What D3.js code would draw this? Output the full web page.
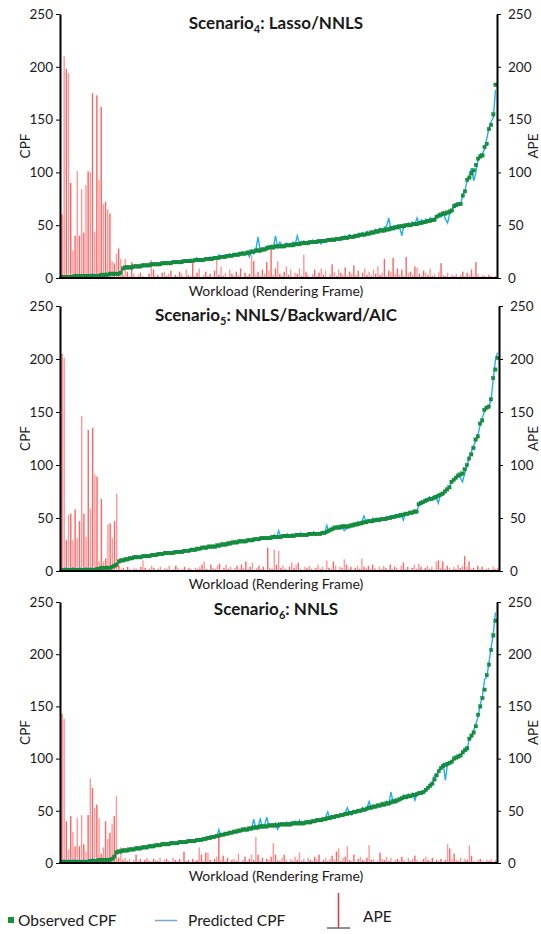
<!DOCTYPE html>
<html><head><meta charset="utf-8">
<script src="https://cdn.jsdelivr.net/npm/d3@7"></script>
<style>body{margin:0;background:#fff}text{font-family:Lato,"Open Sans",sans-serif;fill:#1a1a1a}</style>
</head><body>
<svg id="c" width="541" height="934"></svg>
<script>
const yTicks = [0,50,100,150,200,250];

const obs4 = [1,1,1,1,1,1,2,2,2,2,2,2,2,2,2,2,2,2,
3,3,3,3,4,4,4,4,4,5,
9,10,10,10,10,11,
11,11,11,12,12,12,12,13,
13,13,13,13,14,14,14,
14,14,15,15,15,15,15,16,
16,16,16,16,17,17,17,17,
17,18,18,18,18,19,19,
19,20,20,20,21,21,21,22,
22,22,23,23,23,24,24,25,
25,26,26,26,27,27,28,29,
29,29,30,30,30,30,30,31,31,31,31,32,32,32,33,
33,33,33,34,34,34,34,35,35,35,35,36,36,36,36,
37,37,37,38,38,38,39,39,39,40,40,41,41,41,42,
42,43,43,44,44,45,45,45,46,46,47,47,48,48,49,
49,49,50,50,50,51,51,51,52,52,53,53,54,54,55,
55,58,59,60,61,61,62,63,64,
68,69,70,70,
78,82,93,95,99,102,107,113,115,116,124,127,141,145,155,183];
const pred4 = [2,2,1,2,2,3,3,2,3,2,3,3,2,3,4,3,2,3,
4,3,5,4,4,5,4,5,5,5,
9,11,10,11,10,12,
12,11,12,13,11,13,12,14,
13,14,12,14,15,13,15,
15,14,16,15,16,14,17,15,
17,16,18,16,17,19,16,18,
17,19,18,20,18,20,19,
22,19,21,22,20,23,21,23,
21,24,22,25,23,25,20,26,
23,27,39,25,28,27,30,28,
31,28,40,29,34,31,30,33,30,32,34,31,40,33,32,
35,32,35,33,36,34,36,34,32,36,35,37,35,38,36,
38,36,39,37,40,37,41,38,41,39,42,40,43,41,44,
41,44,42,46,43,47,44,48,49,57,46,49,47,50,48,
40,51,49,52,50,53,51,57,51,55,52,56,54,57,54,
57,58,61,58,62,56,52,61,63,
70,70,71,70,
79,83,92,97,104,92,100,112,117,118,122,132,142,148,152,178];
const ape4 = [60,210,198,194,90,26,40,101,40,84,43,88,101,100,175,44,173,93,162,70,72,65,61,16,14,23,28,18,
3,18,6,2,15,4,1,3,5,2,1,0,4,17,8,2,3,1,5,6,2,4,7,1,3,2,6,4,1,8,3,2,
14,2,5,9,1,3,6,2,4,1,7,17,3,11,2,5,1,8,4,2,6,3,9,1,5,2,4,22,16,3,6,2,8,4,15,7,27,3,9,16,
4,2,6,11,3,8,1,5,4,9,2,22,6,3,1,4,8,2,5,9,3,7,1,4,13,6,2,8,5,3,10,2,6,4,12,3,7,1,5,9,
3,6,2,8,4,11,3,5,18,2,7,6,19,4,9,3,8,2,20,5,6,3,11,10,4,2,7,5,3,9,2,4,1,6,14,3,2,5,1,3,
2,4,1,3,6,2,5,3,8,2,15,4,1,3,2,1,3,2,1,2];

const obs5 = [1,1,1,1,1,1,1,1,1,1,1,1,1,1,1,1,
2,2,3,3,3,3,3,4,5,
6,9,10,10,11,11,12,12,13,
13,13,13,14,14,14,14,15,15,15,16,16,16,17,17,
17,17,17,18,18,18,18,19,19,19,20,20,20,21,21,
22,22,22,23,23,23,23,24,24,25,25,25,26,26,27,
27,27,28,28,28,28,29,29,29,30,30,30,31,31,31,31,
31,32,32,32,32,32,33,33,33,33,33,33,34,34,34,34,
34,34,35,35,35,35,35,35,36,36,37,38,39,40,41,
41,41,42,42,42,42,43,43,44,44,45,45,46,46,47,
47,47,48,48,48,49,49,49,50,50,51,51,52,52,53,
53,54,54,55,55,56,56,
63,64,65,66,67,68,68,69,70,71,72,73,75,
77,79,84,86,88,90,91,92,96,100,106,110,116,124,127,139,142,152,154,155,162,182,190,201];
const pred5 = [2,2,3,2,2,3,2,2,3,2,2,3,2,3,2,2,
3,3,4,3,4,4,3,4,5,
6,9,11,10,12,10,13,11,14,
13,14,12,15,13,15,13,16,14,16,15,17,15,18,16,
18,16,19,17,19,17,20,18,20,19,21,19,22,20,22,
21,23,21,24,22,24,22,25,23,26,24,26,25,27,26,
28,26,29,27,29,27,30,28,30,29,31,29,32,30,32,30,
32,30,34,31,38,32,34,32,35,32,35,33,35,33,36,33,
35,33,36,34,37,34,36,34,37,35,43,37,40,41,42,
40,43,41,38,40,43,42,45,43,46,44,47,52,46,48,
46,50,47,50,47,50,48,51,49,52,50,53,51,54,52,
48,55,53,56,54,57,55,
62,66,64,68,66,70,67,71,69,64,73,72,76,
78,79,85,86,89,91,88,84,92,98,107,112,118,122,128,137,144,150,154,156,160,180,198,206];
const ape5 = [205,201,29,53,54,29,58,31,47,146,54,32,133,59,135,91,89,9,68,9,12,44,45,31,47,73,
5,2,3,1,4,2,1,3,2,1,4,10,3,1,2,5,3,1,2,4,1,3,2,5,1,2,5,3,1,2,4,1,3,2,
1,3,2,4,6,9,2,1,6,3,2,5,7,1,3,6,2,4,1,3,5,2,6,3,9,2,4,8,1,3,5,2,4,1,22,3,2,20,6,19,
3,5,2,1,4,8,3,6,8,2,1,4,3,5,2,1,3,6,2,4,1,10,3,2,9,5,1,4,3,11,6,2,4,1,3,5,2,12,4,3,
5,2,6,3,1,4,2,5,3,1,6,2,4,3,1,5,8,2,4,1,3,6,2,7,4,1,3,5,2,4,1,9,10,3,9,2,5,3,1,4,
2,6,3,5,14,4,9,2,3,1,5,2,4,1,2,3,1,4,2,3];

const obs6 = [1,1,1,1,1,1,1,1,1,1,1,1,1,2,2,2,2,
3,3,3,3,3,3,4,6,
10,11,11,12,12,12,13,13,13,
14,14,14,15,15,15,16,16,16,17,17,17,18,18,18,
18,19,19,19,19,20,20,20,20,21,21,21,21,22,22,
22,23,23,24,24,25,25,26,26,27,27,28,28,29,29,
30,30,31,31,32,32,32,33,33,34,34,34,35,35,35,35,
36,36,36,36,36,37,37,37,37,37,37,38,38,38,38,38,
38,39,39,39,40,40,41,41,41,42,42,43,43,44,44,
45,45,46,46,47,47,48,48,49,49,50,50,51,51,52,
53,53,54,54,55,55,56,56,57,57,58,59,59,60,61,
62,63,63,64,64,65,65,66,67,67,68,70,72,74,76,
80,84,88,91,93,94,95,96,97,100,101,102,103,106,108,110,119,122,125,131,142,150,158,166,180,190,204,218,232];
const pred6 = [2,3,2,3,2,3,3,2,3,2,3,2,3,3,4,3,3,
4,4,4,3,4,4,5,6,
10,12,11,13,11,13,12,14,13,
15,13,15,14,16,14,17,15,17,16,18,16,19,17,19,
17,20,18,20,18,21,19,21,19,22,20,22,20,23,21,
23,22,25,23,26,24,26,25,32,26,28,27,29,28,30,
29,31,30,32,31,33,31,34,32,42,33,35,42,34,36,44,
35,37,35,38,32,36,38,36,39,36,39,37,40,37,41,37,
39,38,40,38,41,39,42,40,42,41,44,49,42,45,43,
46,44,47,45,48,53,47,46,50,48,51,49,53,50,53,
59,52,55,53,56,54,58,55,59,56,68,58,61,59,62,
61,65,62,66,63,67,60,67,66,69,68,71,71,76,75,
84,85,88,92,95,79,96,95,98,101,100,103,104,107,110,108,120,121,127,133,140,152,160,176,178,192,206,220,240];
const ape6 = [143,138,40,13,45,30,16,43,16,46,18,11,46,81,72,53,56,43,9,15,40,23,29,37,45,64,
5,15,3,5,2,4,1,3,8,2,4,1,3,5,2,1,4,3,2,5,1,3,4,2,1,5,3,2,4,1,11,2,3,1,
4,2,3,15,8,2,10,10,3,1,4,6,25,3,7,2,5,1,3,4,2,9,1,3,6,2,4,8,3,25,8,2,5,1,4,3,6,19,8,3,
2,5,8,3,1,4,2,6,3,10,2,4,1,5,3,2,6,4,8,1,3,5,2,4,7,3,11,14,2,5,6,16,3,2,8,1,4,6,3,2,
5,17,3,4,1,2,10,4,3,6,2,5,1,3,4,2,6,3,1,5,2,4,7,3,1,2,4,6,3,2,5,1,3,2,4,1,3,18,14,4,
9,3,2,5,1,4,3,17,7,2,1,3,4,2,1,3,2,4,1,3];

const titleSubs = ["4","5","6"];
const titleRest = [": Lasso/NNLS", ": NNLS/Backward/AIC", ": NNLS"];
const xLabel = "Workload (Rendering Frame)";

const panels = [
  {obs:obs4, pred:pred4, ape:ape4, top:14, bottom:278, left:60, right:497, ty:29, xl:296},
  {obs:obs5, pred:pred5, ape:ape5, top:306, bottom:571, left:60, right:499, ty:321, xl:589},
  {obs:obs6, pred:pred6, ape:ape6, top:602, bottom:863, left:60, right:497, ty:615, xl:881}
];

const svg = d3.select("#c");
const GREEN = "#14913f", BLUE = "#22b0ee", RED = "#ff5252";

panels.forEach((p, k) => {
  const n = Math.min(p.obs.length, p.pred.length, p.ape.length);
  const x = d3.scaleLinear().domain([0, n - 1]).range([p.left + 2, p.right - 1.5]);
  const yL = d3.scaleLinear().domain([0, 250]).range([p.bottom, p.top]);
  const yR = d3.scaleLinear().domain([0, 250]).range([p.bottom, p.top]);
  const g = svg.append("g");

  g.append("g").selectAll("rect").data(p.ape.slice(0, n)).join("rect")
    .attr("x", (d, i) => x(i) - 0.7).attr("width", 1.4)
    .attr("y", d => yR(d)).attr("height", d => p.bottom - yR(d))
    .attr("fill", RED).attr("fill-opacity", (d, i) => i % 2 ? 0.6 : 0.9);

  g.append("path").datum(p.pred.slice(0, n))
    .attr("d", d3.line().x((d, i) => x(i)).y(d => yL(d)))
    .attr("fill", "none").attr("stroke", BLUE).attr("stroke-width", 1.4);

  g.append("g").selectAll("rect").data(p.obs.slice(0, n)).join("rect")
    .attr("x", (d, i) => x(i) - 1.75).attr("y", d => yL(d) - 1.75)
    .attr("width", 3.5).attr("height", 3.5)
    .attr("fill", GREEN).attr("stroke", "#0f7a35").attr("stroke-width", 0.3);

  const la = g.append("g").attr("transform", `translate(${p.left},0)`)
    .call(d3.axisLeft(yL).tickValues(yTicks).tickSize(4).tickSizeOuter(0).tickPadding(3));
  const ra = g.append("g").attr("transform", `translate(${p.right},0)`)
    .call(d3.axisRight(yR).tickValues(yTicks).tickSize(4).tickSizeOuter(0).tickPadding(7));
  [la, ra].forEach(a => {
    a.select(".domain").attr("stroke", "#000").attr("stroke-width", 2);
    a.selectAll(".tick line").attr("stroke", "#000").attr("stroke-width", 1);
    a.selectAll(".tick text").style("font-family", "Lato,'Open Sans',sans-serif")
      .style("font-size", "13.5px").attr("fill", "#1a1a1a");
  });
  g.append("line").attr("x1", p.left - 1).attr("x2", p.right + 1)
    .attr("y1", p.bottom).attr("y2", p.bottom).attr("stroke", "#000").attr("stroke-width", 2);

  const t = g.append("text").attr("x", 276).attr("y", p.ty).attr("text-anchor", "middle")
    .style("font-weight", "bold").style("font-size", "17px");
  t.append("tspan").text("Scenario");
  t.append("tspan").text(titleSubs[k]).attr("dy", 4).style("font-size", "11px");
  t.append("tspan").text(titleRest[k]).attr("dy", -4);

  g.append("text").attr("x", 276).attr("y", p.xl).attr("text-anchor", "middle")
    .style("font-size", "14px").text(xLabel);
  const cy = (p.top + p.bottom) / 2;
  g.append("text").attr("transform", `translate(30,${cy}) rotate(-90)`)
    .attr("text-anchor", "middle").style("font-size", "13.5px").text("CPF");
  g.append("text").attr("transform", `translate(538,${cy}) rotate(-90)`)
    .attr("text-anchor", "middle").style("font-size", "13.5px").text("APE");
});

const lg = svg.append("g");
lg.append("rect").attr("x", 8).attr("y", 917).attr("width", 6).attr("height", 6).attr("fill", GREEN);
lg.append("text").attr("x", 18).attr("y", 926).style("font-size", "15.5px").text("Observed CPF");
lg.append("line").attr("x1", 155).attr("x2", 177).attr("y1", 920.5).attr("y2", 920.5)
  .attr("stroke", "#7aa6cc").attr("stroke-width", 1.5);
lg.append("text").attr("x", 188).attr("y", 926).style("font-size", "15.5px").text("Predicted CPF");
lg.append("line").attr("x1", 338.5).attr("x2", 338.5).attr("y1", 893).attr("y2", 927.5)
  .attr("stroke", "#d9363e").attr("stroke-width", 1.5);
lg.append("line").attr("x1", 327).attr("x2", 350).attr("y1", 928).attr("y2", 928)
  .attr("stroke", "#222").attr("stroke-width", 1);
lg.append("text").attr("x", 363).attr("y", 922).style("font-size", "15.5px").text("APE");
</script>
</body></html>
